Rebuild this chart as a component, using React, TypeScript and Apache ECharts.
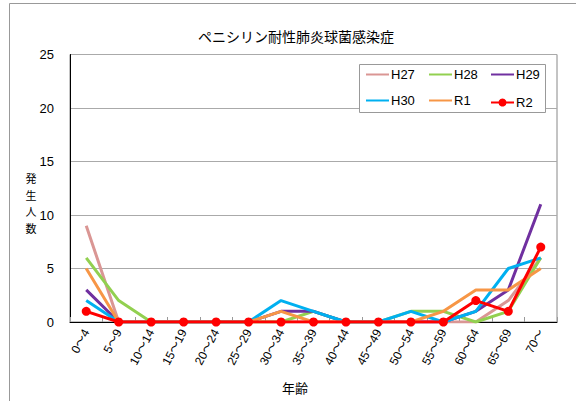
import React, { useEffect, useRef } from "react";
import * as echarts from "echarts";

const categories = ["0～4", "5～9", "10～14", "15～19", "20～24", "25～29", "30～34", "35～39", "40～44", "45～49", "50～54", "55～59", "60～64", "65～69", "70～"];
const seriesNames = ["H27", "H28", "H29", "H30", "R1", "R2"];
const h27 = [9, 0, 0, 0, 0, 0, 0, 0, 0, 0, 0, 0, 0, 2, 6];
const h28 = [6, 2, 0, 0, 0, 0, 0, 1, 0, 0, 1, 1, 0, 1, 6];
const h29 = [3, 0, 0, 0, 0, 0, 1, 1, 0, 0, 0, 0, 1, 3, 11];
const h30 = [2, 0, 0, 0, 0, 0, 2, 1, 0, 0, 1, 0, 1, 5, 6];
const r1 = [5, 0, 0, 0, 0, 0, 1, 0, 0, 0, 0, 1, 3, 3, 5];
const r2 = [1, 0, 0, 0, 0, 0, 0, 0, 0, 0, 0, 0, 2, 1, 7];
const yTicks = [0, 5, 10, 15, 20, 25];

const title = "ペニシリン耐性肺炎球菌感染症";
const yName = "発生人数";
const xName = "年齢";

const colors = ["#DA9694", "#92D050", "#7030A0", "#00B0F0", "#F79646", "#FF0000"];
const values = [h27, h28, h29, h30, r1, r2];

const latin = "'Liberation Sans', 'Noto Sans CJK JP', sans-serif";
const cjk = "'Noto Sans CJK JP', sans-serif";

export default function App() {
  const ref = useRef<HTMLDivElement>(null);
  useEffect(() => {
    if (!ref.current) return;
    const chart = echarts.init(ref.current, null, { renderer: "svg" });
    const legendPos = [
      [365, 75], [428, 75], [490, 75],
      [365, 101], [428, 101], [490, 101],
    ];
    const yChars = yName.split("");
    chart.setOption({
      animation: false,
      backgroundColor: "#fff",
      grid: {
        left: 70,
        right: 19,
        top: 54.5,
        bottom: 79,
        show: true,
        borderColor: "#888",
        borderWidth: 1,
      },
      legend: seriesNames.map((n, i) => {
        const isMarker = i === 5;
        const h = isMarker ? 10 : 14;
        return {
          data: [isMarker ? { name: n } : { name: n, itemStyle: { opacity: 0 } }],
          left: legendPos[i][0],
          top: legendPos[i][1] - h / 2,
          padding: 0,
          itemWidth: 23,
          itemHeight: h,
          itemGap: 0,
          z: 10,
          textStyle: { fontFamily: latin, fontSize: 13, color: "#000", padding: [0, 0, 0, -3] },
        };
      }),
      xAxis: {
        type: "category",
        data: categories,
        boundaryGap: true,
        axisLine: { lineStyle: { color: "#000", width: 1 } },
        axisTick: { show: true, inside: true, length: 5, lineStyle: { color: "#999" }, interval: 0 },
        axisLabel: {
          interval: 0,
          rotate: 62,
          margin: 8,
          fontFamily: latin,
          fontSize: 12,
          color: "#000",
        },
        splitLine: { show: false },
      },
      yAxis: {
        type: "value",
        min: yTicks[0],
        max: yTicks[yTicks.length - 1],
        interval: 5,
        axisLine: { show: true, lineStyle: { color: "#000", width: 1 } },
        axisTick: { show: false },
        axisLabel: { margin: 16, fontFamily: latin, fontSize: 13, color: "#000" },
        splitLine: { show: true, lineStyle: { color: "#aaa", width: 1 } },
      },
      graphic: [
        {
          type: "rect",
          shape: { x: 9.5, y: 3.5, width: 620, height: 420 },
          style: { fill: "none", stroke: "#999", lineWidth: 1 },
          silent: true,
          z: 1,
        },
        {
          type: "rect",
          shape: { x: 359.5, y: 64.5, width: 186, height: 48 },
          style: { fill: "#fff", stroke: "#999", lineWidth: 1 },
          silent: true,
          z: 5,
        },
        {
          type: "text",
          x: 296,
          y: 36,
          style: { text: title, fontFamily: cjk, fontSize: 14, fill: "#000", textAlign: "center", textVerticalAlign: "middle" },
          z: 5,
        },
        ...yChars.map((c, k) => ({
          type: "text",
          x: 31,
          y: 178 + k * 16.5,
          style: { text: c, fontFamily: cjk, fontSize: 11, fill: "#000", textAlign: "center", textVerticalAlign: "middle" },
          z: 5,
        })),
        {
          type: "text",
          x: 295,
          y: 387,
          style: { text: xName, fontFamily: cjk, fontSize: 13, fill: "#000", textAlign: "center", textVerticalAlign: "middle" },
          z: 5,
        },
      ],
      series: seriesNames.map((n, i) => ({
        name: n,
        type: "line",
        data: values[i],
        color: colors[i],
        symbol: i === 5 ? "circle" : "none",
        showSymbol: i === 5,
        symbolSize: 9,
        lineStyle: { width: 3, color: colors[i] },
        itemStyle: { color: colors[i] },
        z: 2 + i * 0.01,
      })),
    });
    return () => chart.dispose();
  }, []);
  return <div ref={ref} style={{ width: 576, height: 401, position: "absolute", left: 0, top: 0 }} />;
}
